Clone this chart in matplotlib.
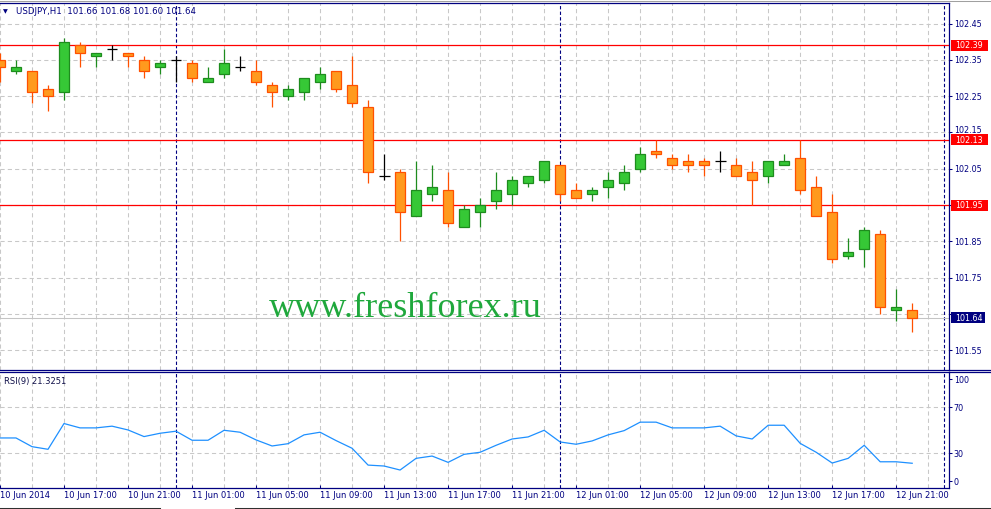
import matplotlib
matplotlib.use("Agg")
import matplotlib.pyplot as plt
from matplotlib.patches import Rectangle
from matplotlib.lines import Line2D
from matplotlib.transforms import blended_transform_factory, ScaledTranslation

# USDJPY H1 candles, 10 Jun 13:00 .. 12 Jun 22:00
opens = [102.35, 102.32, 102.32, 102.27, 102.26, 102.39, 102.36, 102.38, 102.37, 102.35,
         102.33, 102.35, 102.34, 102.29, 102.31, 102.33, 102.32, 102.28, 102.25, 102.26,
         102.29, 102.32, 102.28, 102.22, 102.03, 102.04, 101.92, 101.98, 101.99, 101.89,
         101.93, 101.96, 101.98, 102.01, 102.02, 102.06, 101.99, 101.98, 102.00, 102.01,
         102.05, 102.10, 102.08, 102.07, 102.07, 102.07, 102.06, 102.04, 102.03, 102.06,
         102.08, 102.00, 101.93, 101.81, 101.83, 101.87, 101.66, 101.66]
highs = [102.37, 102.35, 102.32, 102.28, 102.41, 102.40, 102.37, 102.39, 102.37, 102.36,
         102.35, 102.36, 102.35, 102.33, 102.38, 102.36, 102.35, 102.29, 102.28, 102.30,
         102.33, 102.32, 102.36, 102.24, 102.09, 102.05, 102.07, 102.06, 102.04, 101.95,
         101.97, 102.04, 102.03, 102.03, 102.07, 102.06, 102.01, 102.00, 102.04, 102.06,
         102.11, 102.13, 102.09, 102.09, 102.08, 102.10, 102.08, 102.07, 102.07, 102.09,
         102.13, 102.03, 101.98, 101.86, 101.89, 101.88, 101.72, 101.68]
lows = [102.29, 102.31, 102.23, 102.21, 102.24, 102.33, 102.33, 102.35, 102.33, 102.30,
        102.31, 102.29, 102.29, 102.29, 102.30, 102.32, 102.28, 102.22, 102.24, 102.24,
        102.27, 102.26, 102.22, 102.01, 102.02, 101.85, 101.92, 101.96, 101.89, 101.89,
        101.89, 101.94, 101.95, 102.00, 102.01, 101.96, 101.97, 101.96, 101.97, 101.99,
        102.04, 102.08, 102.05, 102.04, 102.03, 102.04, 102.03, 101.95, 102.01, 102.06,
        101.98, 101.92, 101.79, 101.80, 101.78, 101.65, 101.63, 101.60]
closes = [102.33, 102.33, 102.26, 102.25, 102.40, 102.37, 102.37, 102.38, 102.36, 102.32,
          102.34, 102.35, 102.30, 102.30, 102.34, 102.33, 102.29, 102.26, 102.27, 102.30,
          102.31, 102.27, 102.23, 102.04, 102.03, 101.93, 101.99, 102.00, 101.90, 101.94,
          101.95, 101.99, 102.02, 102.03, 102.07, 101.98, 101.97, 101.99, 102.02, 102.04,
          102.09, 102.09, 102.06, 102.06, 102.06, 102.07, 102.03, 102.02, 102.07, 102.07,
          101.99, 101.92, 101.80, 101.82, 101.88, 101.67, 101.67, 101.64]
rsi = [43.4, 43.4, 35.8, 33.5, 56.0, 52.2, 52.2, 53.7, 50.4, 44.6,
       47.5, 49.3, 41.4, 41.4, 50.1, 48.4, 41.7, 36.4, 38.4, 46.1,
       48.4, 41.1, 34.4, 19.7, 18.9, 15.4, 25.6, 27.6, 22.1, 29.1,
       30.9, 37.0, 42.5, 44.3, 50.1, 39.9, 37.9, 40.8, 46.1, 49.8,
       57.2, 57.2, 52.2, 52.2, 52.2, 53.7, 45.2, 42.5, 54.5, 54.5,
       38.7, 30.9, 21.5, 25.6, 37.0, 22.6, 22.6, 21.3]

levels = [102.39, 102.13, 101.95]
bid = 101.64
day_starts = [11, 35, 59]
price_ticks = [101.55, 101.65, 101.75, 101.85, 101.95, 102.05, 102.15, 102.25, 102.35, 102.45]
time_pos = [0, 4, 8, 12, 16, 20, 24, 28, 32, 36, 40, 44, 48, 52, 56]
time_labels = ["10 Jun 2014", "10 Jun 17:00", "10 Jun 21:00", "11 Jun 01:00", "11 Jun 05:00",
               "11 Jun 09:00", "11 Jun 13:00", "11 Jun 17:00", "11 Jun 21:00", "12 Jun 01:00",
               "12 Jun 05:00", "12 Jun 09:00", "12 Jun 13:00", "12 Jun 17:00", "12 Jun 21:00"]

W, H = 991, 509
NAVY = "#000080"
GRID = "#c8c8c8"
plt.rcParams["font.family"] = ["DejaVu Sans"]

fig = plt.figure(figsize=(W / 100, H / 100), dpi=100)
fig.patch.set_facecolor("white")


def fy(y):
    return 1 - y / H


ax = fig.add_axes([0, fy(370), 949 / W, (370 - 3) / H])
ax2 = fig.add_axes([0, fy(488), 949 / W, (488 - 372) / H])

for a in (ax, ax2):
    a.set_xlim(0, 59.3)
    for s in ("top", "bottom", "right"):
        a.spines[s].set_color(NAVY)
        a.spines[s].set_linewidth(0.9)
    a.spines["left"].set_visible(False)
    for i in range(0, 60, 2):
        a.axvline(i, color=GRID, lw=0.75, ls=(0, (4, 3)), zorder=0)
    for d in day_starts:
        a.axvline(d, color=NAVY, lw=0.8, ls=(0, (3, 2)), zorder=1)

ax.set_ylim(101.4955, 102.5065)
ax2.set_ylim(-0.3, 101.0)

for p in price_ticks:
    ax.axhline(p, color=GRID, lw=0.75, ls=(0, (4, 3)), zorder=0)
for v in (30, 70):
    ax2.axhline(v, color=GRID, lw=0.75, ls=(0, (4, 3)), zorder=0)

# horizontal levels and bid line
for lvl in levels:
    ax.axhline(lvl, color="red", lw=0.9, zorder=2)
ax.axhline(bid, color="#c4c4c4", lw=0.75, zorder=1)

# candles
bull_x, bull_b, bull_h = [], [], []
bear_x, bear_b, bear_h = [], [], []
for i in range(len(opens)):
    o, h, l, c = opens[i], highs[i], lows[i], closes[i]
    if c > o:
        ax.vlines(i, l, h, color="#1e8c1e", lw=0.9, zorder=3)
        bull_x.append(i); bull_b.append(o); bull_h.append(c - o)
    elif c < o:
        ax.vlines(i, l, h, color="#ff5000", lw=0.9, zorder=3)
        bear_x.append(i); bear_b.append(c); bear_h.append(o - c)
    else:
        ax.vlines(i, l, h, color="black", lw=0.9, zorder=3)
        ax.hlines(o, i - 0.34, i + 0.34, color="black", lw=0.9, zorder=3)

ax.bar(bull_x, bull_h, bottom=bull_b, width=0.66, color="#36c836",
       edgecolor="#1e8c1e", linewidth=0.9, zorder=4)
ax.bar(bear_x, bear_h, bottom=bear_b, width=0.66, color="#ff9a1e",
       edgecolor="#ff5000", linewidth=0.9, zorder=4)

# RSI
ax2.plot(range(len(rsi)), rsi, color="#1e90ff", lw=0.9, zorder=3)

# axes ticks (101.65 sits fully under the bid box, so its label is left blank)
ax.set_xticks([])
ax.yaxis.tick_right()
ax.set_yticks(price_ticks)
ax.set_yticklabels(["" if abs(p - 101.65) < 1e-6 else f"{p:.2f}" for p in price_ticks])
ax.tick_params(axis="y", direction="out", length=2, width=0.75, colors=NAVY,
               labelsize=5.8, pad=1.5)
# nudge 102.15 up a little so it clears the 102.13 box text
for p, lbl in zip(price_ticks, ax.get_yticklabels()):
    if abs(p - 102.15) < 1e-6:
        lbl.set_transform(lbl.get_transform() + ScaledTranslation(0, 2.6 / 100, fig.dpi_scale_trans))

ax2.yaxis.tick_right()
ax2.set_yticks([5.6, 30, 70, 94.7])
ax2.set_yticklabels(["0", "30", "70", "100"])
ax2.tick_params(axis="y", direction="out", length=2, width=0.75, colors=NAVY,
                labelsize=5.8, pad=1.5)
ax2.set_xticks(time_pos)
ax2.set_xticklabels(time_labels)
ax2.tick_params(axis="x", direction="in", length=2.5, width=0.75, colors=NAVY,
                labelsize=6, pad=2)
for lbl in ax2.get_xticklabels():
    lbl.set_horizontalalignment("left")

# price boxes on the scale
tr = blended_transform_factory(fig.transFigure, ax.transData)
px = 1 / 363.0
for lvl, fc, x1 in [(levels[0], "red", 988), (levels[1], "red", 988),
                    (levels[2], "red", 988), (bid, NAVY, 985)]:
    ax.add_patch(Rectangle((951 / W, lvl - 5.5 * px), (x1 - 951) / W, 11 * px,
                           transform=tr, facecolor=fc, edgecolor="none",
                           clip_on=False, zorder=6))
    ax.text(955 / W, lvl - 0.5 * px, f"{lvl:.2f}", transform=tr, color="white",
            fontsize=5.8, va="center", ha="left", zorder=7, clip_on=False)

# texts
fig.text(3 / W, fy(11.5), "\u25bc", fontsize=4.5, color=NAVY, va="center")
fig.text(16 / W, fy(11.7), "USDJPY,H1  101.66 101.68 101.60 101.64", fontsize=6.2,
         color=NAVY, va="center")
fig.text(4 / W, fy(381.7), "RSI(9) 21.3251", fontsize=6, color="#10104a", va="center")
fig.text(269 / W, fy(317), "www.freshforex.ru", fontfamily="Liberation Serif",
         fontsize=26, color="#1fa83c", va="baseline")

# frame lines outside the axes
for y in (370, 372):
    fig.add_artist(Line2D([949 / W, 1], [fy(y), fy(y)], color=NAVY, lw=0.9))
fig.add_artist(Line2D([0, 1], [fy(0.5), fy(0.5)], color="#a0a0a0", lw=0.75))
fig.add_artist(Line2D([0, 160 / W], [fy(507.5), fy(507.5)], color="#303030", lw=0.75))
fig.add_artist(Line2D([235 / W, 1], [fy(507.5), fy(507.5)], color="#303030", lw=0.75))

fig.savefig("out.png", dpi=100)
